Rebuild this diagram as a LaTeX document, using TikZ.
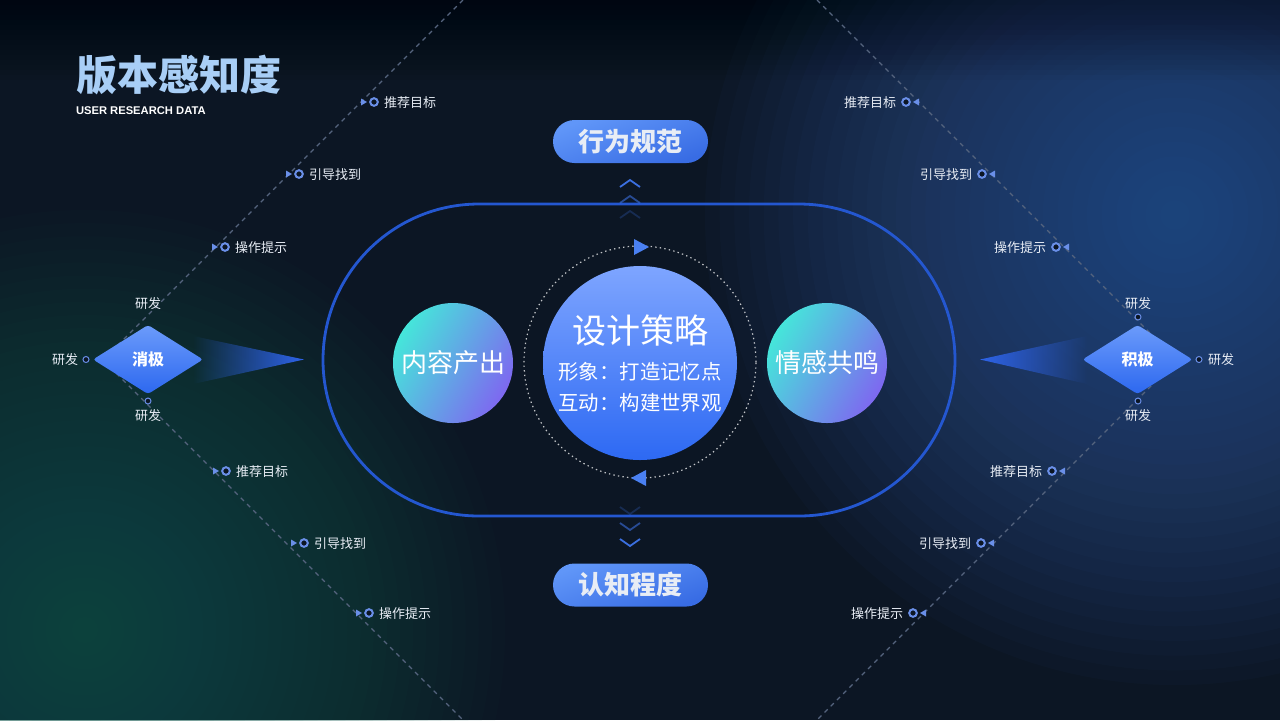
\documentclass[tikz,border=0pt]{standalone}
\usepackage{fontspec}
\setmainfont{Noto Sans CJK SC}
\newfontfamily\latinfont{Liberation Sans}
\usetikzlibrary{fadings,shapes.geometric,shapes.misc}
\definecolor{bg}{HTML}{0C1624}
\definecolor{glowB}{HTML}{3462A8}
\definecolor{glowG}{HTML}{1B5E55}
\definecolor{mk}{HTML}{6A8FE8}
\definecolor{dashc}{HTML}{55647E}
\definecolor{stad}{HTML}{2457D0}
\definecolor{txtw}{HTML}{E8EDF5}
\definecolor{titlec}{HTML}{A8CEF6}
\definecolor{pillA}{HTML}{6096F8}
\definecolor{pillB}{HTML}{386CE4}
\definecolor{cenA}{HTML}{7EA5FF}
\definecolor{cenB}{HTML}{2D69F3}
\definecolor{sideA}{HTML}{45E6DA}
\definecolor{sideB}{HTML}{7E68F0}
\definecolor{diaA}{HTML}{6B9BFB}
\definecolor{diaB}{HTML}{2D68EF}
\definecolor{tailc}{HTML}{2E64EA}
\definecolor{arrowc}{HTML}{4A80F2}
\definecolor{chevc}{HTML}{3B6FE0}
\tikzfading[name=fadeleft, left color=transparent!100, right color=transparent!0]
\tikzfading[name=faderight, left color=transparent!0, right color=transparent!100]
\begin{document}
\begin{tikzpicture}[x=0.5pt,y=-0.5pt,
  every node/.style={inner sep=0pt, outer sep=0pt},
  lbl/.style={text=txtw, font=\fontsize{6.5pt}{7pt}\selectfont},
  ring/.style={draw=mk, line width=1pt, fill=bg},
  sring/.style={draw=mk, line width=0.5pt, fill=bg},
  tri/.style={fill=mk},
  dashline/.style={draw=dashc, line width=0.6pt, dash pattern=on 2.2pt off 2.2pt},
  pill/.style={rounded rectangle, minimum width=77.5pt, minimum height=21.5pt, top color=pillA, bottom color=pillB, shading angle=20, text=txtw, font=\fontsize{13pt}{15pt}\selectfont\bfseries},
  side/.style={circle, minimum size=60pt, top color=sideA, bottom color=sideB, shading angle=60, text=white, font=\fontsize{13pt}{15pt}\selectfont},
  dia/.style={diamond, minimum width=55pt, minimum height=34.5pt, rounded corners=1.5pt, top color=diaA, bottom color=diaB, text=white, font=\fontsize{8pt}{9pt}\selectfont\bfseries},
  chev/.style={draw=chevc, line width=0.9pt},
  stadium/.style={draw=stad, line width=1.4pt}
]
\useasboundingbox (0,0) rectangle (1280,720);
\begin{scope}
\clip (0,0) rectangle (1280,720);
\fill[bg] (0,0) rectangle (1280,720);
\foreach \k [evaluate=\k as \r using {235*(1-(\k-1)/32)}] in {1,...,32}{
  \fill[glowB, opacity=0.04] (1175,215) circle[radius=\r pt];
}
\foreach \k [evaluate=\k as \r using {210*(1-(\k-1)/32)}] in {1,...,32}{
  \fill[glowG, opacity=0.04] (85,630) circle[radius=\r pt];
}
\foreach \k in {1,...,16}{
  \fill[black, opacity=0.03] (0,0) rectangle (1280,5*\k);
}

% dashed guide lines
\coordinate (vL) at (103,360);
\coordinate (vR) at (1177,360);
\coordinate (tL) at (463,0);
\coordinate (bL) at (463,720);
\coordinate (tR) at (817,0);
\coordinate (bR) at (817,720);
\draw[dashline] (tL) -- (vL) -- (bL);
\draw[dashline] (tR) -- (vR) -- (bR);
\end{scope}

% title
\node[anchor=west, text=titlec, font=\fontsize{20.5pt}{24pt}\selectfont\bfseries] (title) at (76,75) {版本感知度};
\node[anchor=west, text=white, font=\latinfont\bfseries\fontsize{5.6pt}{7pt}\selectfont] (sub) at (76,111) {USER RESEARCH DATA};

% stadium
\draw[stadium, rounded corners=78pt] (323,204) rectangle (955,516);

% chevrons
\draw[chev] (620,187) -- (630,180) -- (640,187);
\draw[chev, opacity=0.6] (620,203) -- (630,196) -- (640,203);
\draw[chev, opacity=0.25] (620,218) -- (630,211) -- (640,218);
\draw[chev, opacity=0.25] (620,507) -- (630,514) -- (640,507);
\draw[chev, opacity=0.6] (620,523) -- (630,530) -- (640,523);
\draw[chev] (620,539) -- (630,546) -- (640,539);

% pills
\node[pill] (top) at (630.5,141.5) {行为规范};
\node[pill] (bot) at (630.5,585) {认知程度};

% dotted ring and arrows
\draw[white, opacity=0.75, line width=0.6pt, dash pattern=on 0.7pt off 1.6pt] (640,362) circle[radius=58pt];
\fill[arrowc] (634,239) -- (649,247) -- (634,255) -- cycle;
\fill[arrowc] (646,470) -- (631,478) -- (646,486) -- cycle;

% center circle
\node[circle, minimum size=97pt, top color=cenA, bottom color=cenB] (cen) at (640,363) {};
\node[text=white, font=\fontsize{17pt}{19pt}\selectfont] (cenT) at (640,331) {设计策略};
\node[text=white, font=\fontsize{10.2pt}{12pt}\selectfont] (cen1) at (640,372) {形象：打造记忆点};
\node[text=white, font=\fontsize{10.2pt}{12pt}\selectfont] (cen2) at (640,403) {互动：构建世界观};

% side circles
\node[side] (cL) at (453,363) {内容产出};
\node[side] (cR) at (827,363) {情感共鸣};

% tails and diamonds
\fill[tailc, path fading=fadeleft] (193,336) -- (304,359.5) -- (193,384) -- cycle;
\fill[tailc, path fading=faderight] (1087,336) -- (980,359.5) -- (1087,384) -- cycle;
\node[dia] (dL) at (148,359.5) {消极};
\node[dia] (dR) at (1137.5,359.5) {积极};

% diamond side labels
\node[lbl] (dLt) at (148,304) {研发};
\draw[sring] (86,359.5) circle[radius=1.5pt];
\node[lbl] (dLl) at (65,360) {研发};
\draw[sring] (148,401) circle[radius=1.5pt];
\node[lbl] (dLb) at (148,416) {研发};
\node[lbl] (dRt) at (1138,304) {研发};
\draw[sring] (1138,317) circle[radius=1.5pt];
\draw[sring] (1199,359.5) circle[radius=1.5pt];
\node[lbl] (dRr) at (1221,360) {研发};
\draw[sring] (1138,401) circle[radius=1.5pt];
\node[lbl] (dRb) at (1138,416) {研发};

% left markers
\foreach \x/\y/\t [count=\i] in {374/102/推荐目标, 299/174/引导找到, 225/247/操作提示, 226/471/推荐目标, 304/543/引导找到, 369/613/操作提示}{
  \fill[tri] (\x-13,\y-3.5) -- (\x-7,\y) -- (\x-13,\y+3.5) -- cycle;
  \draw[ring] (\x,\y) circle[radius=1.9pt];
  \node[lbl, anchor=west] (mL\i) at (\x+10,\y+0.5) {\t};
}
% right markers
\foreach \x/\y/\t [count=\i] in {906/102/推荐目标, 982/174/引导找到, 1056/247/操作提示, 1052/471/推荐目标, 981/543/引导找到, 913/613/操作提示}{
  \fill[tri] (\x+13,\y-3.5) -- (\x+7,\y) -- (\x+13,\y+3.5) -- cycle;
  \draw[ring] (\x,\y) circle[radius=1.9pt];
  \node[lbl, anchor=east] (mR\i) at (\x-10,\y+0.5) {\t};
}
\end{tikzpicture}
\end{document}
